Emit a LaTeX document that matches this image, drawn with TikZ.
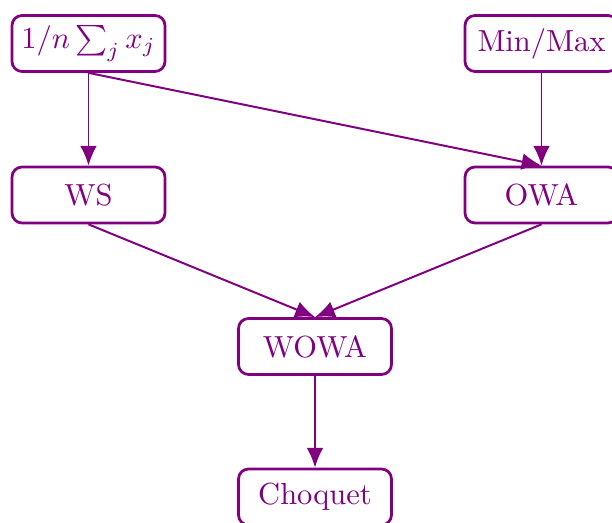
\documentclass[tikz,border=0pt]{standalone}
\usetikzlibrary{arrows.meta}
\definecolor{mypurple}{RGB}{128,0,128}
\begin{document}
\begin{tikzpicture}[x=0.328pt,y=-0.328pt,
  box/.style={draw=mypurple, text=mypurple, line width=0.9pt, rounded corners=3.3pt,
    minimum width=153*0.328pt, minimum height=56*0.328pt, inner sep=0pt, font=\normalsize},
  conn/.style={draw=mypurple, line width=0.65pt, -{Latex[length=6.5pt,width=5.5pt]}}]
\useasboundingbox (0,0) rectangle (612,523);
\node[box] (avg) at (88.5,43.5) {$1/n\sum_j x_j$};
\node[box] (mm) at (541.5,43.5) {Min/Max};
\node[box] (ws) at (88.5,195) {WS};
\node[box] (owa) at (541.5,195) {OWA};
\node[box] (wowa) at (315,346.5) {WOWA};
\node[box] (cho) at (315,497) {Choquet};
\draw[conn] (avg.south) -- (ws.north);
\draw[conn] (avg.south) -- (owa.north);
\draw[conn] (mm.south) -- (owa.north);
\draw[conn] (ws.south) -- (wowa.north);
\draw[conn] (owa.south) -- (wowa.north);
\draw[conn] (wowa.south) -- (cho.north);
\end{tikzpicture}
\end{document}
